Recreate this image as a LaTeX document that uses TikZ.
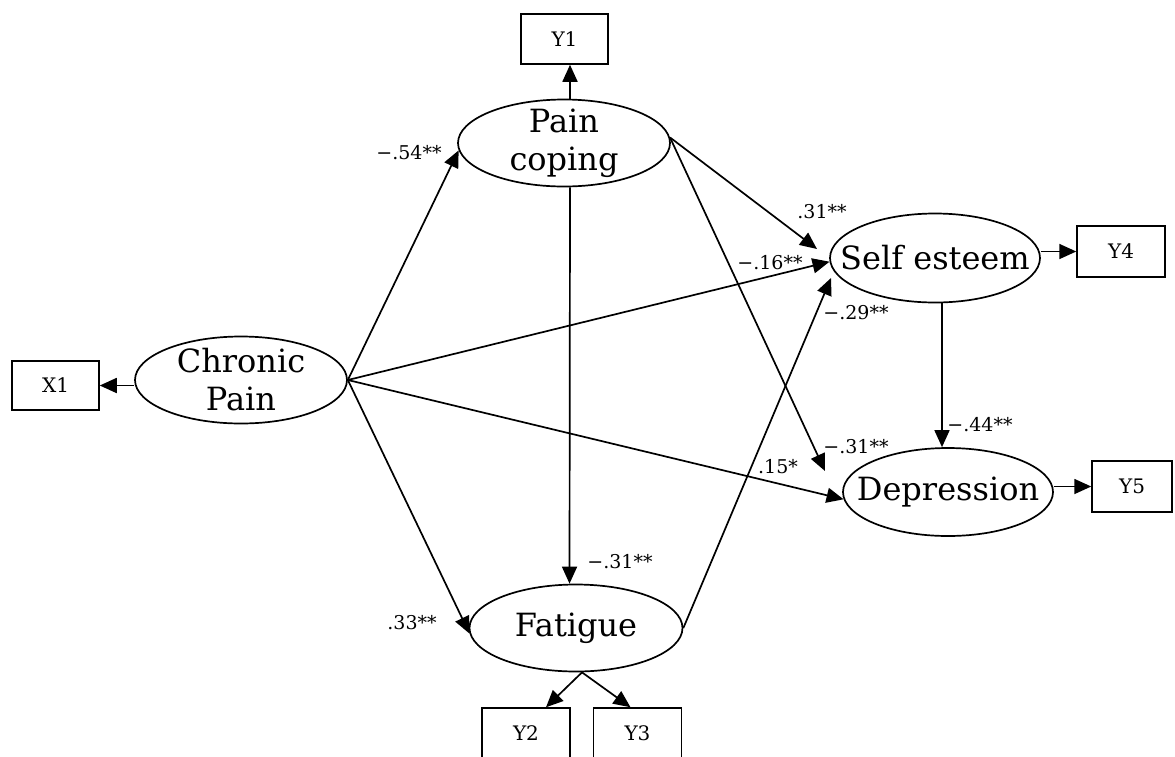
\documentclass[tikz,border=0pt]{standalone}
\usepackage{fontspec}
\setmainfont{DejaVu Serif}
\usetikzlibrary{arrows.meta,shapes.geometric,calc}
\begin{document}
\begin{tikzpicture}[x=1pt,y=-1pt,
  lat/.style={ellipse,draw,line width=1.7pt,inner xsep=-70pt,inner ysep=-30pt,minimum width=212pt,minimum height=87pt,align=center,font=\fontsize{32}{38}\selectfont},
  obs/.style={rectangle,draw,line width=1.5pt,inner sep=0pt,minimum width=87pt,minimum height=50pt,font=\fontsize{20}{22}\selectfont},
  pathar/.style={line width=1.7pt,-{Triangle[length=17pt,width=15pt]}},
  coef/.style={font=\fontsize{19}{21}\selectfont,inner sep=0pt}]
\useasboundingbox (0,0) rectangle (1175,756);
% latent variables
\node[lat] (pc) at (564,143) {Pain\\coping};
\node[lat,minimum width=210pt,minimum height=89pt] (se) at (935,258) {Self esteem};
\node[lat,minimum width=210pt,minimum height=88pt] (dep) at (948,492) {Depression};
\node[lat] (cp) at (241,380) {Chronic\\Pain};
\node[lat,minimum width=213pt] (fat) at (576,628) {Fatigue};
% observed variables
\node[obs] (y1) at (564.5,39) {Y1};
\node[obs,minimum width=88pt,minimum height=51pt] (y4) at (1121,251.5) {Y4};
\node[obs,minimum width=80pt,minimum height=51pt] (y5) at (1132,486.5) {Y5};
\node[obs,minimum height=49pt] (x1) at (55.5,385.5) {X1};
\node[obs,minimum width=88pt] (y2) at (526,733) {Y2};
\node[obs,minimum width=88pt] (y3) at (637.5,733) {Y3};
% arrow tip points that stop short of their ellipse
\coordinate (tpcse) at (817,249);
\coordinate (tpcdep) at (825,471);
\coordinate (tfatse) at (831,278);
% measurement arrows
\draw[pathar] (cp.west |- x1) -- (x1.east);
\draw[pathar] ($(pc.north)+(6,0)$) -- ($(y1.south)+(5.5,0)$);
\draw[pathar] (se.east |- y4) -- (y4.west);
\draw[pathar] (dep.east |- y5) -- (y5.west);
\draw[pathar] ($(fat.south)+(6,0)$) -- ($(y2.north)+(20,0)$);
\draw[pathar] ($(fat.south)+(6,0)$) -- ($(y3.north)+(-7,0)$);
% structural arrows
\draw[pathar] (cp.east) -- (pc.184);
\draw[pathar] (cp.east) -- (se.182);
\draw[pathar] (cp.east) -- (dep.184);
\draw[pathar] (cp.east) -- (fat.183);
\draw[pathar] (pc.3) -- (tpcse);
\draw[pathar] (pc.3) -- (tpcdep);
\draw[pathar] ($(pc.south)+(6,0)$) -- ($(fat.north)+(-6.5,0)$);
\draw[pathar] (fat.east) -- (tfatse);
\draw[pathar] ($(se.south)+(7,0)$) -- ($(dep.north)+(-6,0)$);
% coefficients
\node[coef] (c1) at (409,153) {−.54**};
\node[coef] (c2) at (822,212) {.31**};
\node[coef] (c3) at (770,263) {−.16**};
\node[coef] (c4) at (856,313) {−.29**};
\node[coef] (c5) at (980,425) {−.44**};
\node[coef] (c6) at (856,447) {−.31**};
\node[coef] (c7) at (778,467) {.15*};
\node[coef] (c8) at (620,562) {−.31**};
\node[coef] (c9) at (412,623) {.33**};
\end{tikzpicture}
\end{document}
